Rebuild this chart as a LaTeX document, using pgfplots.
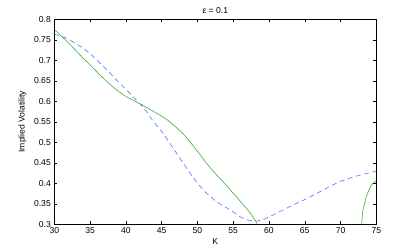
\documentclass[border=0pt]{standalone}
\usepackage{fontspec}
\setmainfont{Liberation Sans}
\usepackage{pgfplots}
\pgfplotsset{compat=1.18}
\definecolor{cGreen}{RGB}{60,175,60}
\definecolor{cBlue}{RGB}{90,110,255}
\begin{document}
\begin{tikzpicture}[x=1bp,y=1bp]
\begin{axis}[
  at={(0,0)}, anchor=south west,
  width=322bp, height=205bp, scale only axis,
  xmin=30, xmax=75, ymin=0.3, ymax=0.8,
  xtick={30,35,...,75},
  ytick={0.3,0.35,0.4,0.45,0.5,0.55,0.6,0.65,0.7,0.75,0.8},
  yticklabel style={/pgf/number format/fixed},
  /pgf/number format/assume math mode=true,
  tick align=inside, major tick length=3bp,
  tick style={black, line width=0.4pt},
  axis line style={black, line width=0.5pt},
  font=\fontsize{8.6}{10}\selectfont,
  xlabel={K}, ylabel={Implied Volatility},
  title={ε = 0.1},
  every axis x label/.style={at={(axis description cs:0.5,-0.083)}, anchor=center},
  every axis y label/.style={at={(axis description cs:-0.099,0.5)}, anchor=center, rotate=90},
  every axis title/.style={at={(axis description cs:0.5,1.045)}, anchor=center},
  clip=true,
]
% green: model smile, two pieces
\addplot[cGreen, line width=0.6pt, smooth, tension=0.4] coordinates {
(30,0.776) (31,0.759) (32,0.742) (33,0.724) (34.05,0.705) (35,0.689) (36.4,0.664)
(37.5,0.646) (38.7,0.628) (40,0.612) (41.5,0.598) (42.6,0.588) (43.6,0.578) (44.8,0.566)
(45.7,0.556) (46.8,0.540) (48.0,0.521) (49.2,0.496) (50.4,0.469) (51.5,0.444) (52.7,0.420)
(53.9,0.398) (55.0,0.376) (56.2,0.352) (57.4,0.327) (58.2,0.306) (58.35,0.300)
};
\addplot[cGreen, line width=0.6pt, smooth, tension=0.4] coordinates {
(72.96,0.300) (73.1,0.331) (73.6,0.367) (74.2,0.392) (74.6,0.401) (75,0.406)
};
% blue dashed
\addplot[cBlue, line width=0.6pt, dash pattern=on 5bp off 3.5bp, smooth, tension=0.4] coordinates {
(30,0.764) (31,0.758) (31.7,0.754) (33,0.741) (34.05,0.729) (35.2,0.713) (36.4,0.693)
(37.6,0.672) (38.7,0.652) (39.9,0.631) (41.0,0.611) (42.0,0.593) (42.9,0.575) (43.8,0.552)
(45.2,0.522) (47.1,0.473) (49.0,0.424) (50.8,0.384) (52.7,0.355) (54.6,0.335)
(56.0,0.318) (57.2,0.310) (58.3,0.308) (59.4,0.313) (60.6,0.323) (62.9,0.343)
(65.3,0.363) (67.6,0.384) (69.9,0.404) (72.3,0.418) (74.6,0.428) (75,0.430)
};
\end{axis}
\pgfresetboundingbox
\useasboundingbox (-54.3,-27.7) rectangle (360.7,224.3);
\end{tikzpicture}
\end{document}
